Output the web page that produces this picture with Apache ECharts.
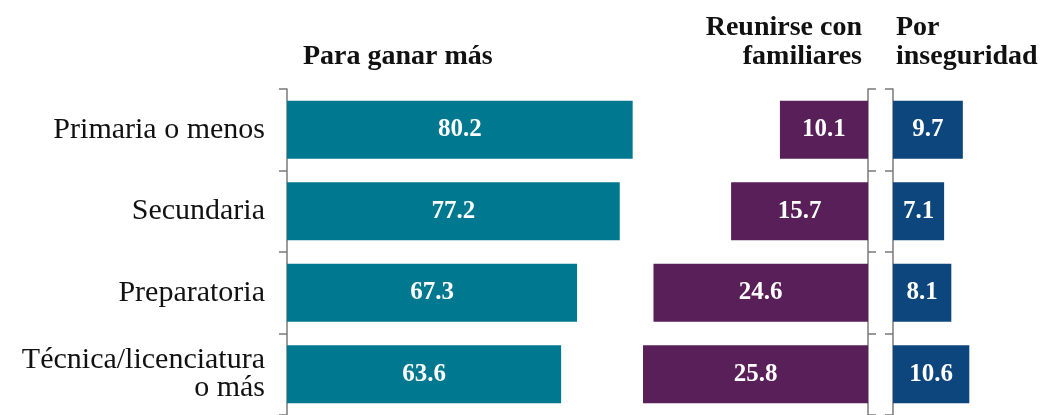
<!DOCTYPE html>
<html>
<head>
<meta charset="utf-8">
<script src="https://cdn.jsdelivr.net/npm/echarts@6/dist/echarts.min.js"></script>
<style>
  html, body { margin: 0; padding: 0; background: #fff; }
  #chart { width: 1048px; height: 415px; }
</style>
</head>
<body>
<div id="chart"></div>
<script>
// datos
const categorias = ["Primaria o menos", "Secundaria", "Preparatoria", "Técnica/licenciatura\no más"];
const ganarMas = [80.2, 77.2, 67.3, 63.6];
const reunirse = [10.1, 15.7, 24.6, 25.8];
const inseguridad = [9.7, 7.1, 8.1, 10.6];

const fuente = "Liberation Serif";
const gris = "#7a7a7a";

let myChart = echarts.init(document.getElementById("chart"));

function ejeY(idx, pos, showLabel) {
  return {
    type: "category",
    gridIndex: idx,
    data: categorias,
    inverse: true,
    position: pos,
    axisLine: { show: true, lineStyle: { color: gris, width: 1.5 } },
    axisTick: { show: true, length: 8, lineStyle: { color: gris, width: 1.5 } },
    axisLabel: {
      show: showLabel,
      margin: 22,
      fontFamily: fuente,
      fontSize: 30,
      color: "#111",
      lineHeight: 28,
      align: "right"
    }
  };
}

function serie(idx, datos, color) {
  return {
    type: "bar",
    xAxisIndex: idx,
    yAxisIndex: idx,
    data: datos,
    barWidth: 58,
    itemStyle: { color: color },
    label: {
      show: true,
      position: "inside",
      color: "#fff",
      fontFamily: fuente,
      fontWeight: "bold",
      fontSize: 25,
      formatter: (p) => p.value.toFixed(1)
    }
  };
}

let titulo = { fontFamily: fuente, fontWeight: "bold", fontSize: 28, color: "#111", lineHeight: 29 };

let option = {
  animation: false,
  title: [
    { text: "Para ganar más", left: 298, top: 37, textStyle: titulo },
    { text: "Reunirse con\nfamiliares", left: 857, top: 8, textAlign: "right", textStyle: Object.assign({}, titulo, { align: "right" }) },
    { text: "Por\ninseguridad", left: 891, top: 8, textStyle: titulo }
  ],
  grid: [
    { left: 287, top: 89, width: 431, height: 327 },
    { left: 606.4, top: 89, width: 261.6, height: 327 },
    { left: 893, top: 89, width: 144, height: 327 }
  ],
  xAxis: [
    { type: "value", gridIndex: 0, min: 0, max: 100, show: false },
    { type: "value", gridIndex: 1, min: 0, max: 30, inverse: true, show: false },
    { type: "value", gridIndex: 2, min: 0, max: 20, show: false }
  ],
  yAxis: [
    ejeY(0, "left", true),
    ejeY(1, "right", false),
    ejeY(2, "left", false)
  ],
  series: [
    serie(0, ganarMas, "#00788f"),
    serie(1, reunirse, "#581f58"),
    serie(2, inseguridad, "#0d467c")
  ]
};

myChart.setOption(option);
</script>
</body>
</html>
